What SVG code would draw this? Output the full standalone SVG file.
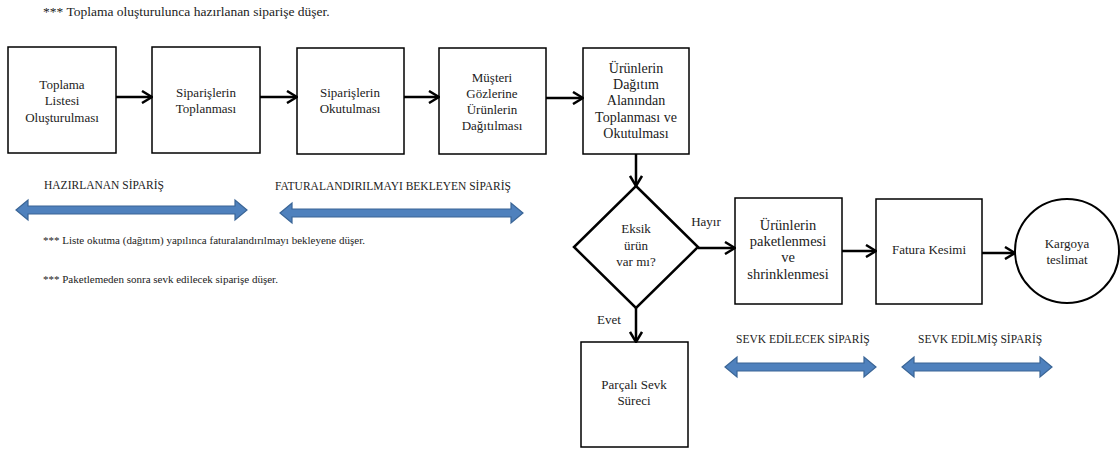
<svg xmlns="http://www.w3.org/2000/svg" width="1120" height="450" viewBox="0 0 1120 450" font-family="Liberation Serif, DejaVu Serif, serif">
<style>
text{font-family:'Liberation Serif','DejaVu Serif',serif;fill:#222}
.b{fill:#fff;stroke:#000;stroke-width:1.5}
.t{font-size:13px;text-anchor:middle}
.t14{font-size:14px}
.t145{font-size:14.5px}
.n{font-size:13.5px}
.m{font-size:11px}
.l{font-size:11.5px}
.c{stroke:#000;stroke-width:2.5;fill:none;marker-end:url(#ah)}
.blue{fill:#4f81bd;stroke:#3a6596;stroke-width:1.2}
</style>
<defs>
<marker id="ah" viewBox="0 0 12 14" refX="11" refY="7" markerWidth="12" markerHeight="14" markerUnits="userSpaceOnUse" orient="auto">
<path d="M1,1 L11,7 L1,13" fill="none" stroke="#000" stroke-width="2.5"/>
</marker>
</defs>
<rect width="1120" height="450" fill="#fff"/>
<text class="n" x="43" y="16">*** Toplama oluşturulunca hazırlanan siparişe düşer.</text>
<g id="n1"><rect class="b" x="8" y="47" width="108" height="106"/><text class="t" x="62" y="89">Toplama</text><text class="t" x="62" y="105">Listesi</text><text class="t" x="62" y="122">Oluşturulması</text></g>
<g id="n2"><rect class="b" x="152" y="47" width="108" height="106"/><text class="t" x="206" y="97">Siparişlerin</text><text class="t" x="206" y="113">Toplanması</text></g>
<g id="n3"><rect class="b" x="297" y="48" width="107" height="106"/><text class="t" x="350" y="97">Siparişlerin</text><text class="t" x="350" y="113">Okutulması</text></g>
<g id="n4"><rect class="b" x="439" y="48" width="107" height="106"/><text class="t" x="492" y="82">Müşteri</text><text class="t" x="492" y="98">Gözlerine</text><text class="t" x="492" y="114">Ürünlerin</text><text class="t" x="492" y="130">Dağıtılması</text></g>
<g id="n5"><rect class="b" x="583" y="48" width="106" height="106"/><text class="t t14" x="636" y="73">Ürünlerin</text><text class="t t14" x="636" y="89">Dağıtım</text><text class="t t14" x="636" y="105">Alanından</text><text class="t t14" x="636" y="122">Toplanması ve</text><text class="t t14" x="636" y="138">Okutulması</text></g>
<g id="n6"><polygon points="636,186 698,247 636,308 574,247" fill="#fff" stroke="#000" stroke-width="2.5"/><text class="t" x="636" y="233">Eksik</text><text class="t" x="636" y="250">ürün</text><text class="t" x="636" y="266">var mı?</text></g>
<g id="n7"><rect class="b" x="735" y="198" width="107" height="106"/><text class="t t145" x="788" y="230">Ürünlerin</text><text class="t t145" x="788" y="246">paketlenmesi</text><text class="t t145" x="788" y="262">ve</text><text class="t t145" x="788" y="279">shrinklenmesi</text></g>
<g id="n8"><rect class="b" x="876" y="199" width="106" height="105"/><text class="t" x="929" y="254">Fatura Kesimi</text></g>
<g id="n9"><circle cx="1067" cy="251" r="52" fill="#fff" stroke="#000" stroke-width="2"/><text class="t" x="1067" y="248">Kargoya</text><text class="t" x="1067" y="264">teslimat</text></g>
<g id="n10"><rect class="b" x="581" y="342" width="107" height="105"/><text class="t" x="634" y="389">Parçalı Sevk</text><text class="t" x="634" y="405">Süreci</text></g>
<g id="connectors">
<line class="c" x1="116" y1="97" x2="152" y2="97"/>
<line class="c" x1="260" y1="97" x2="297" y2="97"/>
<line class="c" x1="404" y1="97" x2="439" y2="97"/>
<line class="c" x1="546" y1="98" x2="583" y2="98"/>
<line class="c" x1="636" y1="154" x2="636" y2="186"/>
<line class="c" x1="698" y1="248" x2="735" y2="248"/>
<line class="c" x1="636" y1="308" x2="636" y2="342"/>
<line class="c" x1="842" y1="251" x2="876" y2="251"/>
<line class="c" x1="982" y1="253" x2="1015" y2="253"/>
<text class="t" x="706" y="226">Hayır</text>
<text class="t" x="609" y="324">Evet</text>
</g>
<g id="status">
<text class="l" x="44" y="189">HAZIRLANAN SİPARİŞ</text>
<path class="blue" d="M16,210 L28,200 L28,206 L235,206 L235,200 L247,210 L235,220 L235,214 L28,214 L28,220 Z"/>
<text class="l" x="275" y="190">FATURALANDIRILMAYI BEKLEYEN SİPARİŞ</text>
<path class="blue" d="M280,213 L292,203 L292,209 L511,209 L511,203 L523,213 L511,223 L511,217 L292,217 L292,223 Z"/>
<text class="l" x="736" y="343">SEVK EDİLECEK SİPARİŞ</text>
<path class="blue" d="M725,367 L737,357 L737,363 L864,363 L864,357 L876,367 L864,377 L864,371 L737,371 L737,377 Z"/>
<text class="l" x="918" y="343">SEVK EDİLMİŞ SİPARİŞ</text>
<path class="blue" d="M902,367 L914,357 L914,363 L1040,363 L1040,357 L1052,367 L1040,377 L1040,371 L914,371 L914,377 Z"/>
</g>
<text class="m" x="43" y="244">*** Liste okutma (dağıtım) yapılınca faturalandırılmayı bekleyene düşer.</text>
<text class="m" x="43" y="283">*** Paketlemeden sonra sevk edilecek siparişe düşer.</text>
</svg>
